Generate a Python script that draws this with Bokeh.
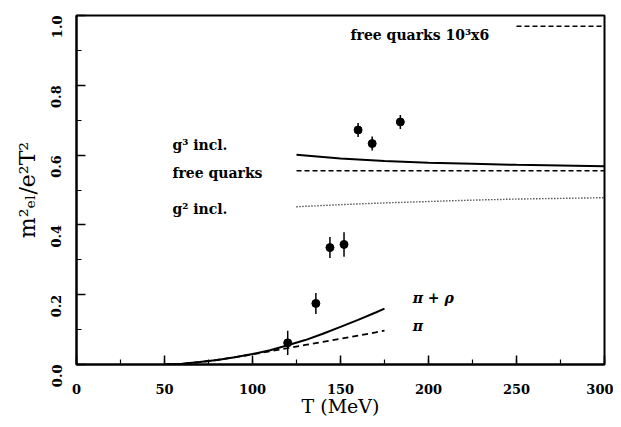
from bokeh.plotting import figure
from bokeh.models import Range1d, FixedTicker, ColumnDataSource
from bokeh.core.properties import value
from bokeh.embed import file_html
from bokeh.resources import INLINE
import math

# Data points with error bars
pt_T = [120, 136, 144, 152, 160, 168, 184]
pt_y = [0.062, 0.175, 0.335, 0.344, 0.672, 0.633, 0.695]
pt_err = [0.035, 0.030, 0.030, 0.035, 0.020, 0.020, 0.020]

# pi + rho (solid) and pi (dashed)
low_T = [50, 60, 70, 80, 90, 100, 110, 120, 130, 140, 150, 160, 170, 175]
pirho_y = [0.0, 0.002, 0.007, 0.013, 0.021, 0.030, 0.041, 0.055, 0.070, 0.088, 0.108, 0.128, 0.149, 0.160]
pi_y = [0.0, 0.002, 0.007, 0.013, 0.021, 0.029, 0.038, 0.047, 0.056, 0.065, 0.074, 0.083, 0.092, 0.097]

# high-T curves
high_T = [125, 150, 175, 200, 225, 250, 275, 300]
g3_y = [0.601, 0.590, 0.583, 0.578, 0.575, 0.572, 0.570, 0.568]
free_y = [0.555, 0.555, 0.555, 0.555, 0.555, 0.555, 0.555, 0.555]
g2_y = [0.452, 0.458, 0.463, 0.467, 0.471, 0.474, 0.476, 0.478]

# free quarks scaled
top_T = [250, 300]
top_y = [0.969, 0.969]

x_ticks = [0, 50, 100, 150, 200, 250, 300]
y_ticks = [0.0, 0.2, 0.4, 0.6, 0.8, 1.0]

FONT = "DejaVu Serif"

p = figure(width=613, height=419, output_backend="svg", toolbar_location=None,
           x_range=Range1d(0, 300), y_range=Range1d(0, 1.0),
           min_border_left=76, min_border_right=9, min_border_top=15, min_border_bottom=49)
p.grid.visible = False
p.background_fill_color = "white"
p.outline_line_color = "black"
p.outline_line_width = 2
p.outline_line_alpha = 1

for ax in (p.xaxis[0], p.yaxis[0]):
    ax.axis_line_width = 2
    ax.major_tick_in = 9
    ax.major_tick_out = 0
    ax.minor_tick_in = 5
    ax.minor_tick_out = 0
    ax.major_tick_line_width = 1.5
    ax.minor_tick_line_width = 1.2
    ax.major_label_text_font = FONT
    ax.major_label_text_font_style = "bold"
    ax.major_label_text_font_size = "13px"
    ax.major_label_text_color = "black"
    ax.axis_label_text_font = FONT
    ax.axis_label_text_font_style = "normal"
    ax.axis_label_text_color = "black"

p.xaxis.ticker = FixedTicker(ticks=x_ticks, minor_ticks=list(range(0, 301, 25)))
p.yaxis.ticker = FixedTicker(ticks=y_ticks, minor_ticks=[i / 10 for i in range(11)])
p.xaxis.major_label_overrides = {t: str(t) for t in x_ticks}
p.yaxis.major_label_overrides = {t: f"{t:.1f}" for t in y_ticks}
p.yaxis.major_label_orientation = math.pi / 2
p.xaxis.major_label_standoff = 19
p.yaxis.major_label_standoff = 20
p.xaxis.axis_label = "T (MeV)"
p.xaxis.axis_label_text_font_size = "19px"
p.xaxis.axis_label_standoff = -2
p.yaxis.axis_label = "m²ₑₗ/e²T²"
p.yaxis.axis_label_text_font_size = "22px"
p.yaxis.axis_label_standoff = 4

# curves
p.line(high_T, g3_y, line_color="black", line_width=2)
p.line(high_T, free_y, line_color="black", line_width=1.6, line_dash="5 3")
p.line(high_T, g2_y, line_color="black", line_width=1.4, line_dash="1 2")
p.line(low_T, pirho_y, line_color="black", line_width=2)
p.line(low_T, pi_y, line_color="black", line_width=1.8, line_dash="6 4")
p.line(top_T, top_y, line_color="black", line_width=1.6, line_dash="5 3")

# points
lo = [y - e for y, e in zip(pt_y, pt_err)]
hi = [y + e for y, e in zip(pt_y, pt_err)]
p.segment(pt_T, lo, pt_T, hi, line_color="black", line_width=1.5)
p.scatter(pt_T, pt_y, size=8, marker="circle", fill_color="black", line_color="black")

# labels
lab_x = [54.5, 54.5, 54.5, 191, 191, 155.7]
lab_y = [0.628, 0.549, 0.445, 0.19, 0.111, 0.944]
lab_t = ["g³ incl.", "free quarks", "g² incl.", "π + ρ", "π", "free quarks 10³x6"]
lab_style = ["bold", "bold", "bold", "bold italic", "bold italic", "bold"]
src = ColumnDataSource(dict(x=lab_x, y=lab_y, t=lab_t, s=lab_style))
p.text(x="x", y="y", text="t", source=src, text_font=value(FONT), text_font_style="s",
       text_font_size="14px", text_baseline="middle", text_align="left", text_color="black")

open("out.html", "w").write(file_html(p, INLINE))
